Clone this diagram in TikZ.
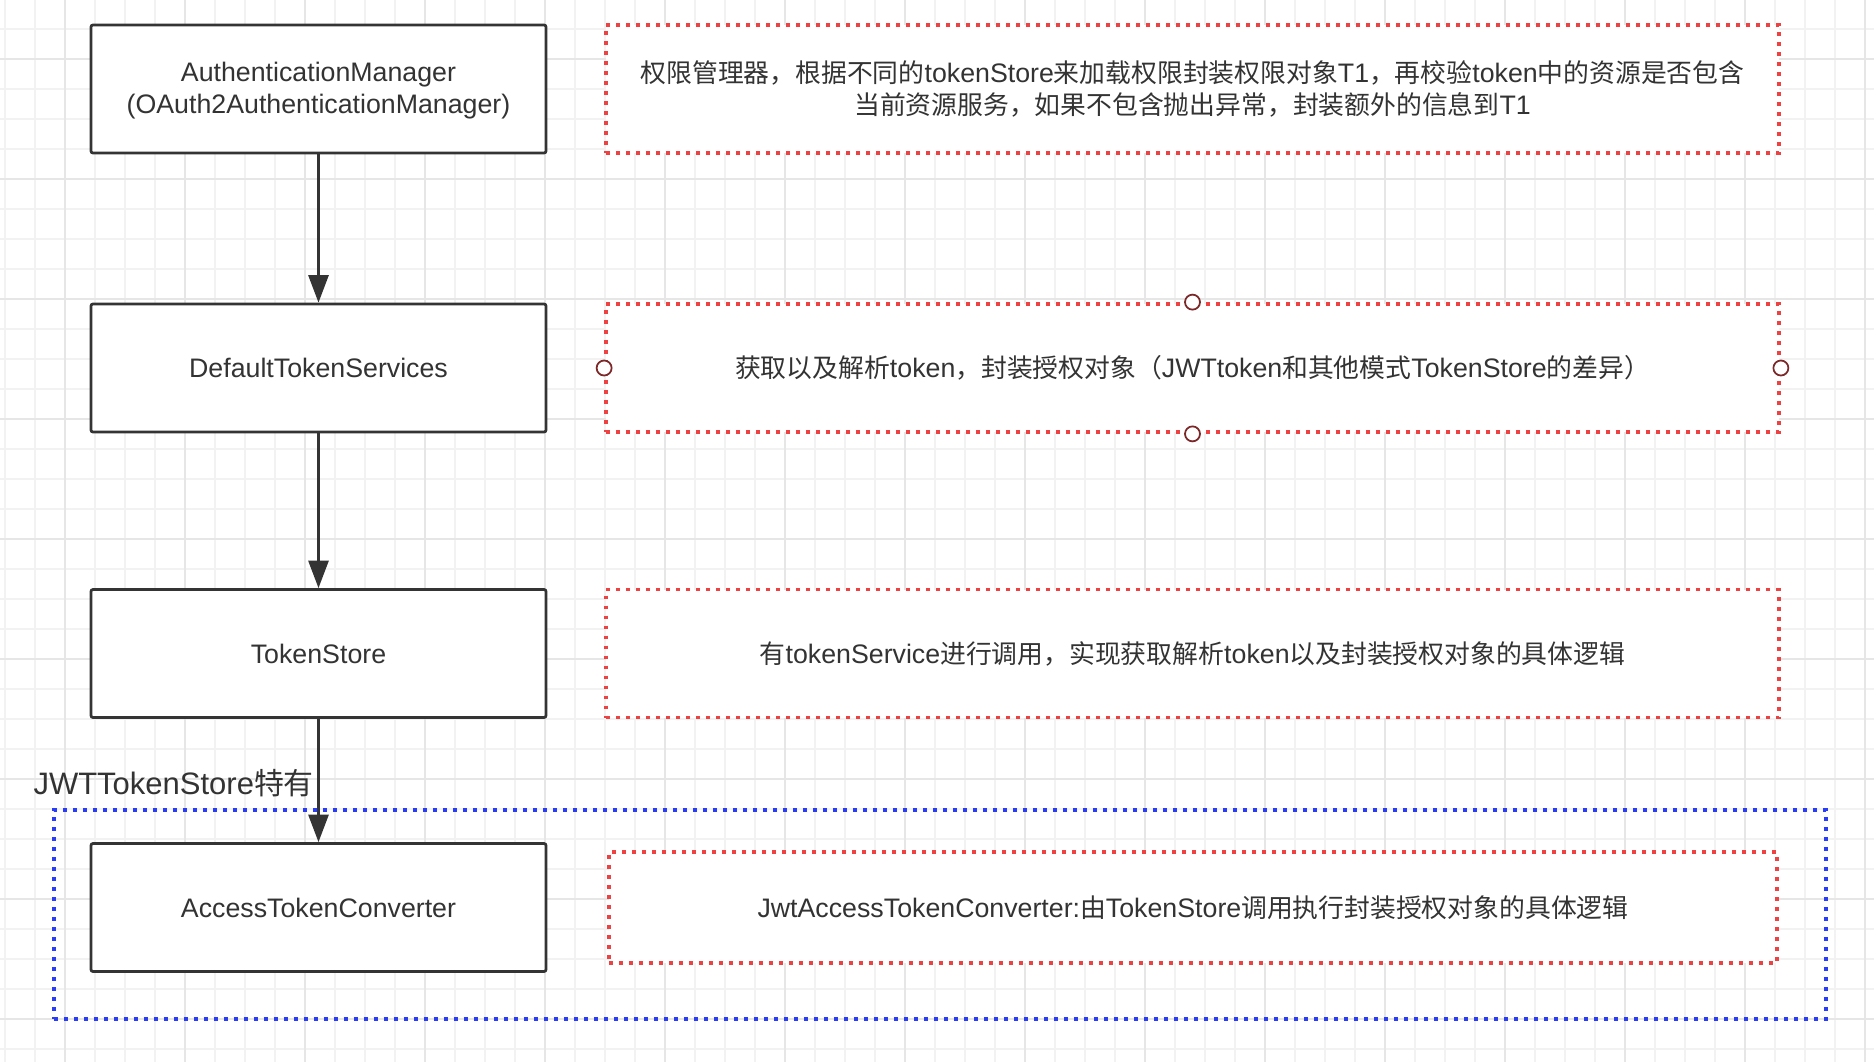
\documentclass[tikz,border=0pt]{standalone}
\usepackage{fontspec}
\setmainfont{Liberation Sans}
\newfontfamily\cjkfont[Scale=0.965]{Noto Sans CJK SC}
\newcommand\zh[1]{{\cjkfont #1}}
\usetikzlibrary{arrows.meta}

\definecolor{ink}{RGB}{51,51,51}
\definecolor{boxline}{RGB}{52,52,52}
\definecolor{notered}{RGB}{238,66,66}
\definecolor{groupblue}{RGB}{40,60,250}
\definecolor{handlered}{RGB}{125,40,40}
\definecolor{gridminor}{RGB}{242,242,242}
\definecolor{gridmajor}{RGB}{230,230,230}

\tikzset{
  stage/.style={draw=boxline, line width=1.1pt, fill=white, rounded corners=0.8pt,
    minimum width=182pt, minimum height=51.2pt, align=center, text=ink,
    font=\fontsize{10.7}{12.8}\selectfont},
  note/.style={draw=notered, line width=1.5pt, dash pattern=on 1.5pt off 2.5pt,
    fill=white, minimum width=469.2pt, minimum height=51.2pt, align=center,
    text=ink, font=\fontsize{10.7}{12.8}\selectfont},
  group/.style={draw=groupblue, line width=1.5pt, dash pattern=on 1.5pt off 2.5pt,
    minimum width=708.8pt, minimum height=83.6pt},
  handle/.style={circle, draw=handlered, line width=0.7pt, fill=white,
    minimum size=6pt, inner sep=0pt},
  flow/.style={draw=boxline, line width=1.1pt,
    -{Triangle[length=11pt, width=8pt]}},
  gridthin/.style={draw=gridminor, line width=0.6pt},
  gridthick/.style={draw=gridmajor, line width=0.8pt}
}

\begin{document}
\begin{tikzpicture}[x=0.4pt, y=-0.4pt]
  \useasboundingbox (0,0) rectangle (1874,1062);
  \fill[white] (0,0) rectangle (1874,1062);

  % background grid
  \foreach \gx in {5,35,...,1865} \draw[gridthin] (\gx,0) -- (\gx,1062);
  \foreach \gy in {29,59,...,1049} \draw[gridthin] (0,\gy) -- (1874,\gy);
  \foreach \gx in {65,185,...,1865} \draw[gridthick] (\gx,0) -- (\gx,1062);
  \foreach \gy in {59,179,...,1019} \draw[gridthick] (0,\gy) -- (1874,\gy);

  % JWT-specific group
  \node[group] (jwtgroup) at (940,914.5) {};
  \node[anchor=west, inner sep=0pt, text=ink, font=\fontsize{12.4}{14}\selectfont]
    (jwtlabel) at (33,783) {JWTTokenStore\zh{特有}};

  % processing chain
  \node[stage] (authmgr) at (318.5,89)
    {\strut AuthenticationManager\\(OAuth2AuthenticationManager)};
  \node[stage] (tokensvc) at (318.5,368) {DefaultTokenServices};
  \node[stage] (tokenstore) at (318.5,653.5) {TokenStore};
  \node[stage] (converter) at (318.5,907.5) {AccessTokenConverter};

  \draw[flow] (authmgr) -- (tokensvc);
  \draw[flow] (tokensvc) -- (tokenstore);
  \draw[flow] (tokenstore) -- (converter);

  % explanations
  \node[note] (noteauth) at (1192.5,89)
    {\strut\zh{权限管理器，根据不同的}tokenStore\zh{来加载权限封装权限对象}T1\zh{，再校验}token\zh{中的资源是否包含}\\
     \zh{当前资源服务，如果不包含抛出异常，封装额外的信息到}T1};
  \node[note] (notesvc) at (1192.5,368)
    {\zh{获取以及解析}token\zh{，封装授权对象（}JWTtoken\zh{和其他模式}TokenStore\zh{的差异）}};
  \node[note] (notestore) at (1192.5,653.5)
    {\zh{有}tokenService\zh{进行调用，实现获取解析}token\zh{以及封装授权对象的具体逻辑}};
  \node[note, minimum width=467.2pt, minimum height=44.4pt] (noteconv) at (1193,907.5)
    {JwtAccessTokenConverter:\zh{由}TokenStore\zh{调用执行封装授权对象的具体逻辑}};

  % selection handles
  \node[handle] (hn) at (notesvc.north) {};
  \node[handle] (hs) at (notesvc.south) {};
  \node[handle] (hw) at (notesvc.west) {};
  \node[handle] (he) at (notesvc.east) {};
\end{tikzpicture}
\end{document}
